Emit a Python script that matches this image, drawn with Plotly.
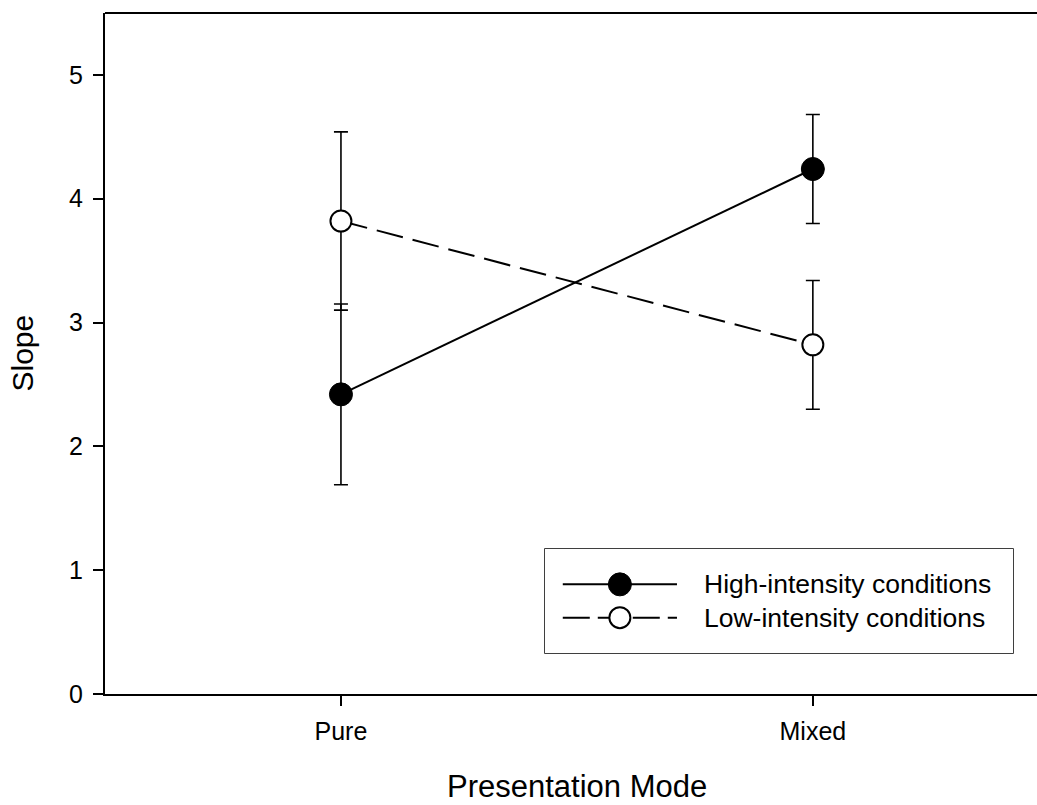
import plotly.graph_objects as go

# Slope by presentation mode for the two intensity conditions
modes = ["Pure", "Mixed"]
high_slope = [2.42, 4.24]
high_err = [0.73, 0.44]
low_slope = [3.82, 2.82]
low_err = [0.72, 0.52]
series_names = ["High-intensity conditions", "Low-intensity conditions"]

FONT = "Arial, Liberation Sans, sans-serif"
W, H = 1037, 805
M_L, M_R, M_T, M_B = 105, 0, 13, 111

fig = go.Figure()

fig.add_trace(go.Scatter(
    x=modes, y=high_slope, mode="lines+markers", name=series_names[0],
    line=dict(color="black", width=2),
    marker=dict(symbol="circle", size=23, color="black",
                line=dict(color="black", width=1)),
    error_y=dict(type="data", array=high_err, visible=True,
                 color="black", thickness=1.6, width=7),
    showlegend=False,
))
fig.add_trace(go.Scatter(
    x=modes, y=low_slope, mode="lines+markers", name=series_names[1],
    line=dict(color="black", width=2, dash="27px,10px"),
    marker=dict(symbol="circle", size=21, color="white",
                line=dict(color="black", width=2)),
    error_y=dict(type="data", array=low_err, visible=True,
                 color="black", thickness=1.6, width=7),
    showlegend=False,
))

# Boxed key drawn on its own unit axes placed inside the plot area
plot_w = W - M_L - M_R
plot_h = H - M_T - M_B
box_x0, box_x1 = (545 - M_L) / plot_w, (1013 - M_L) / plot_w
box_y0, box_y1 = (H - M_B - 653) / plot_h, (H - M_B - 549) / plot_h

key_rows = [0.66, 0.34]
key_styles = [
    dict(line=dict(color="black", width=2),
         marker=dict(symbol="circle", size=23, color="black",
                     line=dict(color="black", width=1))),
    dict(line=dict(color="black", width=2, dash="27px,8px"),
         marker=dict(symbol="circle", size=21, color="white",
                     line=dict(color="black", width=2))),
]
for name, ky, st in zip(series_names, key_rows, key_styles):
    fig.add_trace(go.Scatter(
        x=[0.038, 0.282], y=[ky, ky], mode="lines", xaxis="x2", yaxis="y2",
        line=st["line"], showlegend=False, hoverinfo="skip",
    ))
    fig.add_trace(go.Scatter(
        x=[0.160], y=[ky], mode="markers", xaxis="x2", yaxis="y2",
        marker=st["marker"], showlegend=False, hoverinfo="skip",
    ))
    fig.add_annotation(
        x=0.336, y=ky, xref="x2", yref="y2", text=name, showarrow=False,
        xanchor="left", yanchor="middle",
        font=dict(family=FONT, size=26.5, color="black"),
    )

fig.add_shape(type="rect", xref="paper", yref="paper",
              x0=box_x0, x1=box_x1, y0=box_y0, y1=box_y1,
              line=dict(color="black", width=1.5), fillcolor="white",
              layer="below")
# top frame line
fig.add_shape(type="line", xref="paper", yref="paper",
              x0=0, x1=1, y0=1, y1=1, line=dict(color="black", width=2))

# axis titles
fig.add_annotation(x=0.5, xref="x", y=-(805 - (H - M_B)) / plot_h, yref="paper",
                   text="Presentation Mode", showarrow=False,
                   xanchor="center", yanchor="bottom", borderpad=0,
                   font=dict(family=FONT, size=31, color="black"))
fig.add_annotation(x=-(M_L - 22) / plot_w, xref="paper", y=0.5, yref="paper",
                   text="Slope", textangle=-90, showarrow=False,
                   xanchor="center", yanchor="middle",
                   font=dict(family=FONT, size=30, color="black"))

fig.update_layout(
    width=W, height=H,
    margin=dict(l=M_L, r=M_R, t=M_T, b=M_B),
    paper_bgcolor="white", plot_bgcolor="white",
    font=dict(family=FONT, color="black"),
    xaxis=dict(
        type="category", categoryorder="array", categoryarray=modes,
        range=[-0.5, 1.475], showgrid=False, zeroline=False,
        showline=True, linecolor="black", linewidth=2,
        ticks="outside", ticklen=10, tickwidth=1.5, tickcolor="black",
        ticklabelstandoff=4,
        tickfont=dict(family=FONT, size=25, color="black"),
    ),
    yaxis=dict(
        range=[0, 5.5], tickvals=[0, 1, 2, 3, 4, 5],
        showgrid=False, zeroline=False,
        showline=True, linecolor="black", linewidth=2,
        ticks="outside", ticklen=10, tickwidth=1.5, tickcolor="black",
        ticklabelstandoff=5,
        tickfont=dict(family=FONT, size=25, color="black"),
    ),
    xaxis2=dict(domain=[box_x0, box_x1], range=[0, 1], anchor="y2",
                visible=False, fixedrange=True),
    yaxis2=dict(domain=[box_y0, box_y1], range=[0, 1], anchor="x2",
                visible=False, fixedrange=True),
)

fig.write_html("out.html")
